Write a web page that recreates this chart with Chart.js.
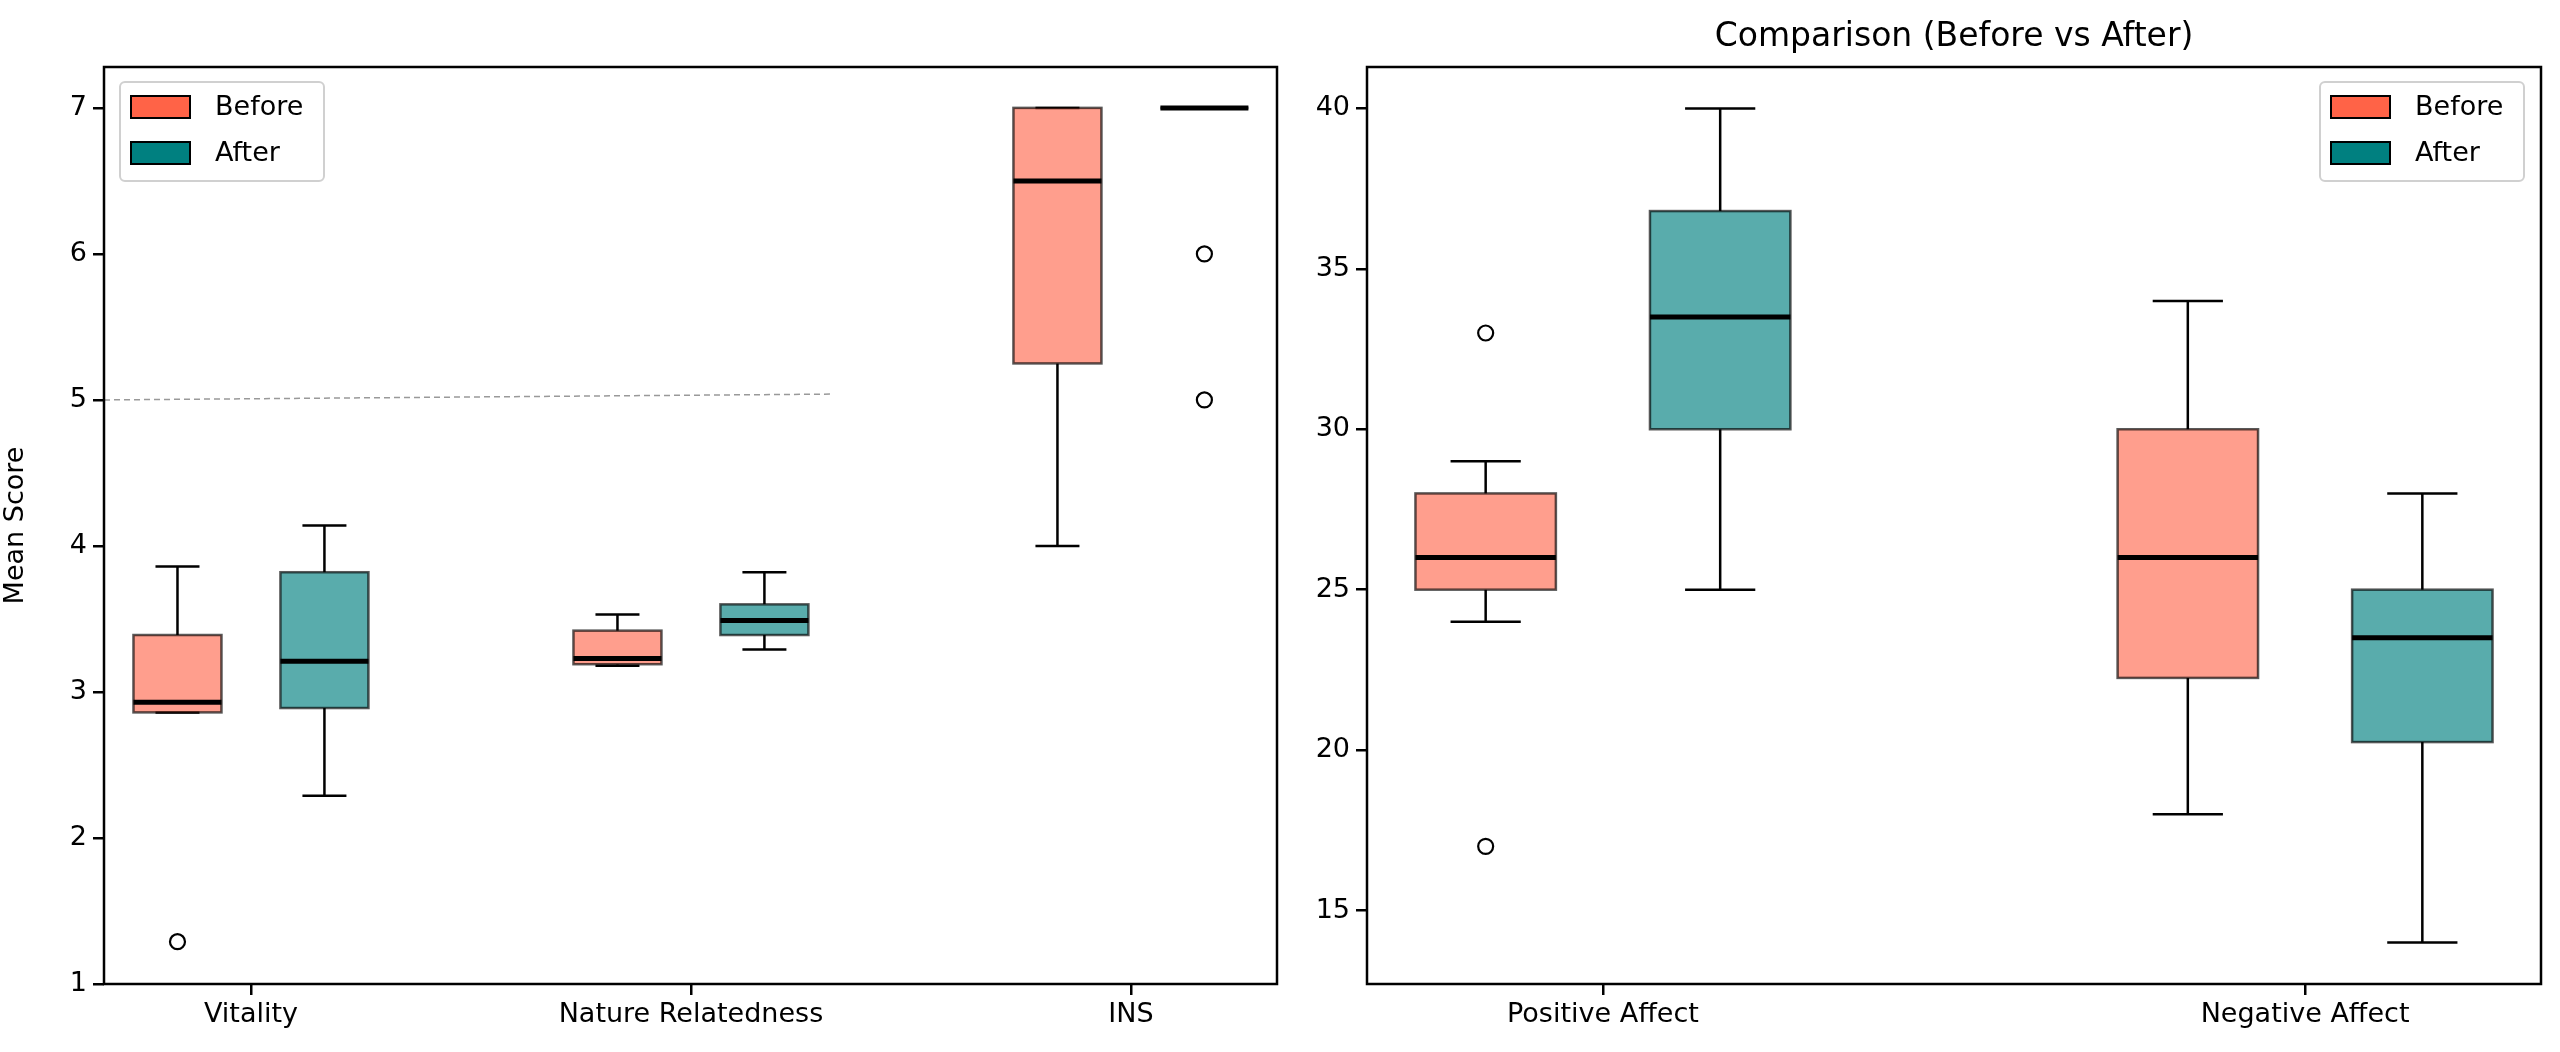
<!DOCTYPE html>
<html><head><meta charset="utf-8">
<script src="https://cdn.jsdelivr.net/npm/chart.js@4.4.1/dist/chart.umd.min.js"></script>
<style>body{margin:0;background:#fff;width:2560px;height:1052px;overflow:hidden;font-family:"DejaVu Sans"}
.p{position:absolute;top:0;height:1052px}</style></head><body>
<div class="p" style="left:0;width:1300px"><canvas id="c1"></canvas></div>
<div class="p" style="left:1300px;width:1260px"><canvas id="c2"></canvas></div>
<script>
// Left panel
const leftCategories = ['Vitality','Nature Relatedness','INS'];
// [min whisker, Q1, median, Q3, max whisker]
const leftBefore = [[2.86,2.86,2.93,3.39,3.86],[3.18,3.19,3.23,3.42,3.53],[4.0,5.25,6.5,7.0,7.0]];
const leftAfter  = [[2.29,2.89,3.21,3.82,4.14],[3.29,3.39,3.49,3.60,3.82],[7.0,7.0,7.0,7.0,7.0]];
const leftBeforeOutliers = [[1.29],[],[]];
const leftAfterOutliers  = [[],[],[6,5]];
const leftRefLine = [{x:-0.334,y:5.0},{x:1.32,y:5.04}];
const leftTicks = [1,2,3,4,5,6,7];
// Right panel
const rightCategories = ['Positive Affect','Negative Affect'];
const rightBefore = [[24,25,26,28,29],[18,22.25,26,30,34]];
const rightAfter  = [[25,30,33.5,36.8,40],[14,20.25,23.5,25,28]];
const rightBeforeOutliers = [[33,17],[]];
const rightAfterOutliers  = [[],[]];
const rightTicks = [15,20,25,30,35,40];

const FONT = '"DejaVu Sans"';
const BEFORE_FILL='rgba(255,99,71,0.62)', AFTER_FILL='rgba(0,128,128,0.65)';
const OFF=0.167, W=0.2;

function boxPlugin(before, after, bOut, aOut, legendX, legendY, title){
  return {id:'boxes', afterDatasetsDraw(chart){
    const ctx=chart.ctx, xs=chart.scales.x, ys=chart.scales.y, a=chart.chartArea;
    ctx.save();
    ctx.beginPath(); ctx.rect(a.left,a.top,a.right-a.left,a.bottom-a.top); ctx.clip();
    const draw=(s,i,off,fill,outs)=>{
      const c=i+off, xl=xs.getPixelForValue(c-W/2), xr=xs.getPixelForValue(c+W/2), xc=xs.getPixelForValue(c);
      const capL=xs.getPixelForValue(c-W/4), capR=xs.getPixelForValue(c+W/4);
      const [mn,q1,md,q3,mx]=s.map(v=>ys.getPixelForValue(v));
      ctx.strokeStyle='#000'; ctx.lineWidth=2.5;
      ctx.beginPath(); ctx.moveTo(xc,q1); ctx.lineTo(xc,mn); ctx.moveTo(xc,q3); ctx.lineTo(xc,mx);
      ctx.moveTo(capL,mn); ctx.lineTo(capR,mn); ctx.moveTo(capL,mx); ctx.lineTo(capR,mx); ctx.stroke();
      ctx.fillStyle=fill; ctx.fillRect(xl,q3,xr-xl,q1-q3);
      ctx.strokeStyle='rgba(0,0,0,0.65)'; ctx.lineWidth=2.5; ctx.strokeRect(xl,q3,xr-xl,q1-q3);
      ctx.strokeStyle='#000'; ctx.lineWidth=5;
      ctx.beginPath(); ctx.moveTo(xl,md); ctx.lineTo(xr,md); ctx.stroke();
      ctx.lineWidth=2.2;
      outs.forEach(v=>{ctx.beginPath(); ctx.arc(xc,ys.getPixelForValue(v),7.5,0,2*Math.PI); ctx.stroke();});
    };
    before.forEach((s,i)=>draw(s,i,-OFF,BEFORE_FILL,bOut[i]));
    after.forEach((s,i)=>draw(s,i,OFF,AFTER_FILL,aOut[i]));
    ctx.restore();
    ctx.save();
    ctx.strokeStyle='#000'; ctx.lineWidth=2.5; ctx.strokeRect(a.left,a.top,a.right-a.left,a.bottom-a.top);
    // legend
    const lx=legendX, ly=legendY;
    ctx.fillStyle='rgba(255,255,255,0.8)'; ctx.strokeStyle='#d0d0d0'; ctx.lineWidth=2;
    ctx.beginPath(); ctx.roundRect(lx,ly,204,99,5); ctx.fill(); ctx.stroke();
    ctx.lineWidth=2; ctx.strokeStyle='#000';
    ctx.fillStyle='#FF6347'; ctx.fillRect(lx+11,ly+14,59,22); ctx.strokeRect(lx+11,ly+14,59,22);
    ctx.fillStyle='#008080'; ctx.fillRect(lx+11,ly+60,59,22); ctx.strokeRect(lx+11,ly+60,59,22);
    ctx.fillStyle='#000'; ctx.font='27px '+FONT; ctx.textBaseline='middle'; ctx.textAlign='left';
    ctx.fillText('Before',lx+95,ly+26); ctx.fillText('After',lx+95,ly+72);
    if(title){ctx.font='33px '+FONT; ctx.textAlign='center'; ctx.fillText(title,(a.left+a.right)/2,37);}
    ctx.restore();
  }};
}

function make(id, cats, before, after, bOut, aOut, ticks, xmin, xmax, ymin, ymax, yw, pr, legX, title, ytitle, extra){
  const tickFont={family:FONT,size:27};
  return new Chart(document.getElementById(id),{
    type:'scatter',
    data:{datasets:extra},
    options:{responsive:true,maintainAspectRatio:false,animation:false,
      layout:{padding:{top:67,right:pr,left:0,bottom:0}},
      plugins:{legend:{display:false},tooltip:{enabled:false}},
      scales:{
        x:{type:'linear',min:xmin,max:xmax,
          afterBuildTicks:s=>{s.ticks=cats.map((c,i)=>({value:i}));},
          afterFit:s=>{s.height=68;},
          ticks:{color:'#000',font:tickFont,padding:4,callback:v=>cats[v]},
          grid:{drawOnChartArea:false,drawTicks:true,tickLength:11,color:'#000',lineWidth:2.5},
          border:{display:false}},
        y:{type:'linear',min:ymin,max:ymax,
          afterBuildTicks:s=>{s.ticks=ticks.map(v=>({value:v}));},
          afterFit:s=>{s.width=yw;},
          ticks:{color:'#000',font:tickFont,padding:6},
          title:{display:!!ytitle,text:ytitle,color:'#000',font:tickFont,padding:0},
          grid:{drawOnChartArea:false,drawTicks:true,tickLength:11,color:'#000',lineWidth:2.5},
          border:{display:false}}
      }},
    plugins:[boxPlugin(before,after,bOut,aOut,legX,82,title)]
  });
}
make('c1',leftCategories,leftBefore,leftAfter,leftBeforeOutliers,leftAfterOutliers,leftTicks,-0.334,2.332,1,7.28,104,23,120,null,'Mean Score',
  [{type:'line',data:leftRefLine,borderColor:'#999',borderDash:[6,4],borderWidth:1.5,pointRadius:0,showLine:true}]);
make('c2',rightCategories,rightBefore,rightAfter,rightBeforeOutliers,rightAfterOutliers,rightTicks,-0.336,1.336,12.71,41.29,67,19,1020,'Comparison (Before vs After)',null,[]);
</script></body></html>
